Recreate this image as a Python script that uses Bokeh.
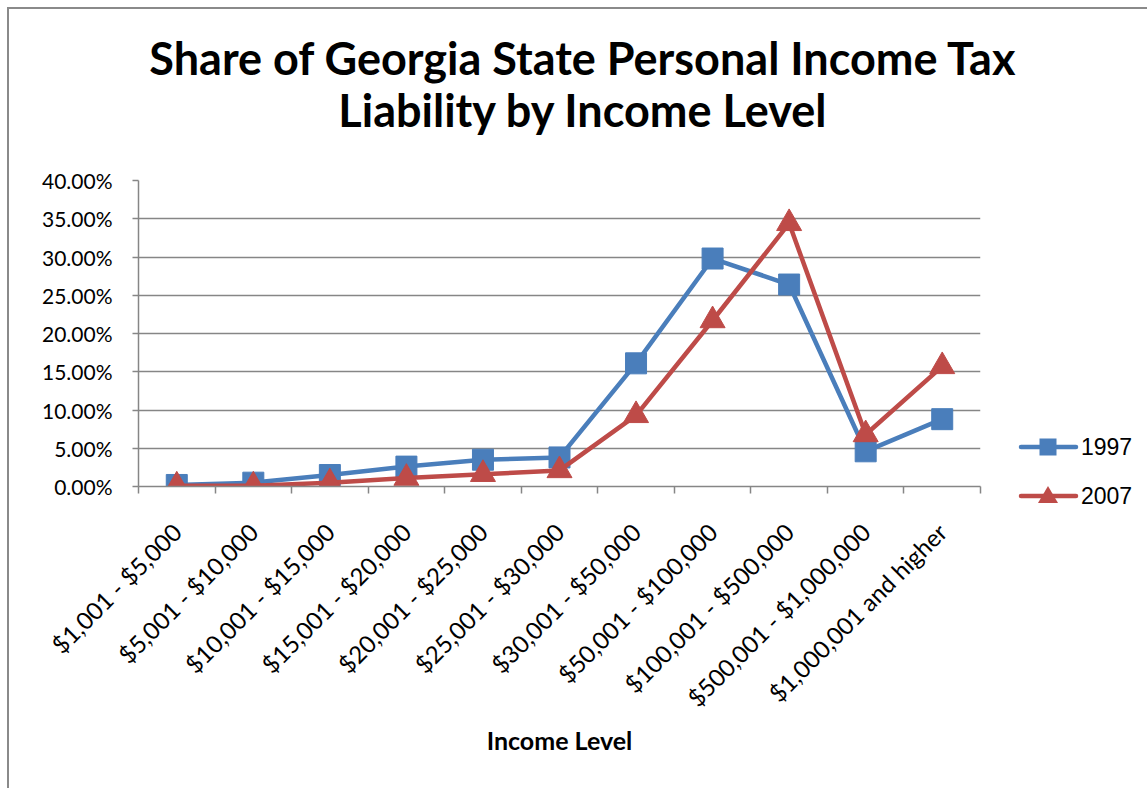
from bokeh.plotting import figure
from bokeh.layouts import row, column
from bokeh.models import Range1d, FixedTicker, PrintfTickFormatter, Div
from bokeh.core.properties import value
from bokeh.embed import file_html
from bokeh.resources import INLINE
import math

# ---------------- data ----------------
categories = ["$1,001 - $5,000", "$5,001 - $10,000", "$10,001 - $15,000",
              "$15,001 - $20,000", "$20,001 - $25,000", "$25,001 - $30,000",
              "$30,001 - $50,000", "$50,001 - $100,000", "$100,001 - $500,000",
              "$500,001 - $1,000,000", "$1,000,001 and higher"]
share_1997 = [0.2, 0.5, 1.5, 2.6, 3.5, 3.8, 16.1, 29.8, 26.4, 4.6, 8.8]
share_2007 = [0.1, 0.1, 0.5, 1.1, 1.6, 2.1, 9.3, 21.7, 34.4, 6.8, 15.7]
y_ticks = [0, 5, 10, 15, 20, 25, 30, 35, 40]
title_lines = ["Share of Georgia State Personal Income Tax", "Liability by Income Level"]
x_title = "Income Level"
series_names = ["1997", "2007"]

FONT = "Lato"
GRID = "#868686"
BLUE = "#4A7EBB"
RED = "#BE4B48"
COLORS = [BLUE, RED]
MARKERS = ["square", "triangle"]

# ---------------- layout (page pixels) ----------------
OX, OY = 9, 9                   # content origin after CSS margin + border
PAGE_W, PAGE_H = 1147, 788
TITLE_BOTTOM = 165              # title strip: page y 9..165
SPLIT_X = 1000                  # chart | legend strip
FL, FR, FT, FB = 138, 980, 180, 486   # plot frame on the page

n = len(categories)
xs = [i + 0.5 for i in range(n)]

# ---- title strip ----
tfig = figure(width=PAGE_W - OX, height=TITLE_BOTTOM - OY, output_backend="svg",
              toolbar_location=None, x_range=Range1d(OX, PAGE_W),
              y_range=Range1d(TITLE_BOTTOM, OY), x_axis_location=None,
              y_axis_location=None, min_border=0)
tfig.outline_line_color = None
tfig.grid.grid_line_color = None
tfig.text(x=[583, 583], y=[57, 109], text=title_lines, text_align="center",
          text_baseline="middle", text_font=value(FONT), text_font_style="bold",
          text_font_size="45px", text_color="black")

# ---- main chart ----
ph = PAGE_H - TITLE_BOTTOM
pw = SPLIT_X - OX
p = figure(width=pw, height=ph, output_backend="svg", toolbar_location=None,
           x_range=Range1d(0, n), y_range=Range1d(y_ticks[0], y_ticks[-1]),
           min_border_left=FL - OX, min_border_right=SPLIT_X - FR,
           min_border_top=FT - TITLE_BOTTOM, min_border_bottom=PAGE_H - FB)
p.outline_line_color = None
p.background_fill_color = "white"
p.border_fill_color = "white"

p.xaxis.ticker = FixedTicker(ticks=xs, minor_ticks=list(range(n + 1)))
p.xaxis.major_label_overrides = {x: c for x, c in zip(xs, categories)}
p.xaxis.major_label_orientation = math.pi / 4
p.xaxis.major_tick_out = 0
p.xaxis.major_tick_in = 0
p.xaxis.major_tick_line_color = None
p.xaxis.minor_tick_out = 7
p.xaxis.minor_tick_in = 0
p.xaxis.minor_tick_line_color = GRID
p.xaxis.minor_tick_line_width = 1.5
p.yaxis.ticker = FixedTicker(ticks=y_ticks)
p.yaxis.formatter = PrintfTickFormatter(format="%.2f%%")
p.yaxis.major_tick_out = 6
p.yaxis.major_tick_in = 0
p.yaxis.minor_tick_line_color = None
p.yaxis.major_tick_line_color = GRID
p.yaxis.major_tick_line_width = 1.5
for ax in (p.xaxis, p.yaxis):
    ax.axis_line_color = GRID
    ax.axis_line_width = 1.5
    ax.major_label_text_font = FONT
    ax.major_label_text_color = "black"
p.yaxis.major_label_text_font_size = "21px"
p.xaxis.major_label_text_font_size = "24px"
p.yaxis.major_label_standoff = 20
p.xaxis.major_label_standoff = 34
p.xaxis.axis_label = x_title
p.xaxis.axis_label_text_font = FONT
p.xaxis.axis_label_text_font_style = "bold"
p.xaxis.axis_label_text_font_size = "25px"
p.xaxis.axis_label_text_color = "black"
p.xaxis.axis_label_standoff = 0
p.xgrid.grid_line_color = None
p.ygrid.ticker = FixedTicker(ticks=y_ticks)
p.ygrid.grid_line_color = GRID
p.ygrid.grid_line_width = 1.5

for vals, col, mk, sz in zip([share_1997, share_2007], COLORS, MARKERS, [21, 25]):
    p.line(xs, vals, line_color=col, line_width=4.5)
    p.scatter(xs, vals, marker=mk, size=sz, fill_color=col, line_color=col)

# ---- legend strip (inline SVG inside a Div, local pixel coordinates) ----
LW = PAGE_W - SPLIT_X
leg_y = [447 - TITLE_BOTTOM, 496 - TITLE_BOTTOM]
x0, x1, xm, xt = 21, 76, 48, 81
parts = []
for name, col, mk, yy in zip(series_names, COLORS, MARKERS, leg_y):
    parts.append(f'<line x1="{x0}" y1="{yy}" x2="{x1}" y2="{yy}" stroke="{col}" '
                 f'stroke-width="4.5" stroke-linecap="round"/>')
    if mk == "square":
        parts.append(f'<rect x="{xm - 8.5}" y="{yy - 8.5}" width="17" height="17" fill="{col}"/>')
    else:
        parts.append(f'<polygon points="{xm - 10},{yy + 7} {xm + 10},{yy + 7} {xm},{yy - 10}" fill="{col}"/>')
    parts.append(f'<text x="{xt}" y="{yy}" dominant-baseline="central" '
                 f'font-family="{FONT}" font-size="23" fill="black">{name}</text>')
svg = (f'<svg xmlns="http://www.w3.org/2000/svg" width="{LW}" height="{ph}" '
       f'style="position:absolute;left:0;top:0">' + "".join(parts) + '</svg>')
legend_div = Div(text=svg, width=LW, height=ph, styles={"position": "relative", "margin": "0", "padding": "0"})

layout = column(tfig, row(p, legend_div, spacing=0), spacing=0)
layout.styles = {"margin-left": "7px", "margin-top": "7px",
                 "border-left": "2px solid #8a8a8a", "border-top": "2px solid #8a8a8a"}

open("out.html", "w").write(file_html(layout, INLINE))
